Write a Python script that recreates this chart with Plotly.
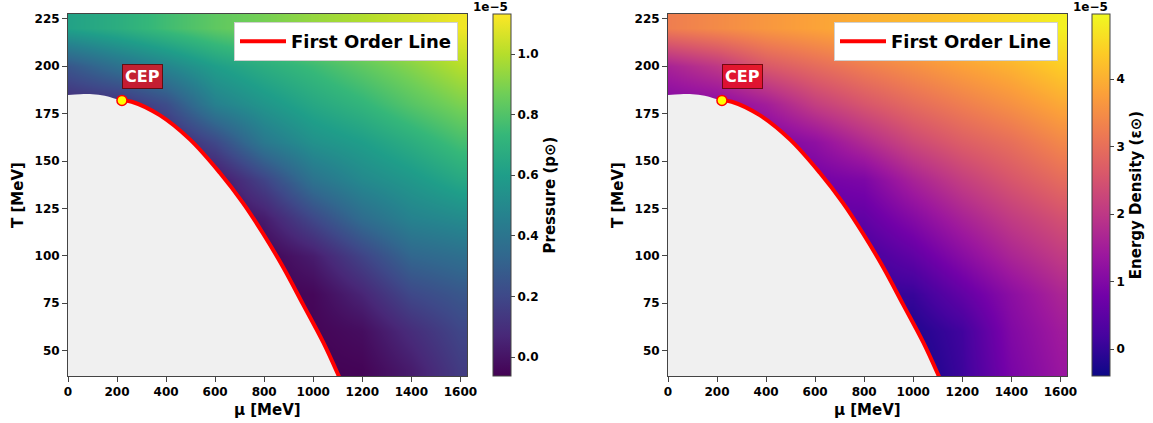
import plotly.graph_objects as go

# ---------------- data ----------------
MU = [0, 200, 400, 600, 800, 1000, 1200, 1400, 1600]          # MeV
TEMP = [40, 60, 80, 100, 120, 140, 160, 180, 200, 220]         # MeV

# Pressure (units of 1e-5), rows = TEMP, cols = MU
PRESSURE = [
    [-0.06, -0.06, -0.06, -0.06, -0.06, -0.06, -0.05, 0.03, 0.15],
    [-0.06, -0.06, -0.06, -0.06, -0.06, -0.05, -0.02, 0.09, 0.19],
    [-0.06, -0.06, -0.06, -0.06, -0.06, -0.04, 0.06, 0.20, 0.26],
    [-0.06, -0.06, -0.06, -0.06, -0.05, 0.03, 0.18, 0.33, 0.37],
    [-0.05, -0.05, -0.05, -0.05, 0.03, 0.20, 0.36, 0.47, 0.51],
    [-0.02, -0.02, -0.02, 0.00, 0.18, 0.39, 0.50, 0.57, 0.65],
    [0.00, 0.00, 0.05, 0.20, 0.42, 0.54, 0.60, 0.68, 0.77],
    [0.08, 0.10, 0.22, 0.46, 0.56, 0.65, 0.72, 0.81, 0.89],
    [0.26, 0.38, 0.48, 0.60, 0.68, 0.75, 0.83, 0.91, 1.00],
    [0.62, 0.68, 0.76, 0.83, 0.88, 0.94, 0.99, 1.05, 1.11],
]

# Energy density (units of 1e-5)
ENERGY = [
    [-0.35, -0.35, -0.35, -0.35, -0.35, -0.35, 0.10, 0.90, 1.35],
    [-0.30, -0.30, -0.30, -0.30, -0.30, -0.20, 0.15, 1.00, 1.45],
    [0.00, 0.00, 0.00, 0.00, 0.00, 0.05, 0.57, 1.15, 1.65],
    [0.20, 0.20, 0.20, 0.20, 0.20, 0.55, 1.10, 1.64, 2.05],
    [0.50, 0.50, 0.50, 0.50, 0.57, 1.05, 1.59, 2.07, 2.45],
    [0.60, 0.60, 0.60, 0.80, 0.94, 1.59, 2.12, 2.55, 2.93],
    [0.80, 0.80, 0.90, 1.20, 1.75, 2.30, 2.70, 3.00, 3.40],
    [1.00, 1.10, 1.50, 2.12, 2.55, 2.93, 3.25, 3.55, 3.90],
    [1.60, 2.00, 2.60, 2.93, 3.25, 3.52, 3.80, 4.05, 4.40],
    [3.25, 3.45, 3.65, 3.82, 3.98, 4.14, 4.35, 4.60, 4.85],
]

# Boundary of the masked region left of the CEP
EDGE_MU = [0, 50, 100, 150]
EDGE_T = [184.8, 185.3, 185.3, 184.5]

# First order line, from the CEP down to the bottom edge
LINE_MU = [220, 260, 374, 497, 619, 714, 796, 878, 959, 1041, 1102, 1114]
LINE_T = [182.0, 181.3, 174.2, 161.4, 143.8, 127.8, 111.6, 93.8, 74.2, 54.2, 37.1, 33.5]

CEP_MU, CEP_T = 220, 182.0

P_TICKS = [0.0, 0.2, 0.4, 0.6, 0.8, 1.0]
E_TICKS = [0, 1, 2, 3, 4]
X_TICKS = [0, 200, 400, 600, 800, 1000, 1200, 1400, 1600]
Y_TICKS = [50, 75, 100, 125, 150, 175, 200, 225]

# ---------------- figure ----------------
W, H = 1153, 423
ML, MR = 10, 40
FONT = "DejaVu Sans"
FRAME = "#444444"


def px(v):
    return (v - ML) / (W - ML - MR)


def py(v):
    return 1 - v / H


panels = [
    dict(xa="x", ya="y", ca="coloraxis", z=PRESSURE, leg="legend"),
    dict(xa="x2", ya="y2", ca="coloraxis2", z=ENERGY, leg="legend2"),
]

fig = go.Figure()
for p in panels:
    fig.add_trace(go.Heatmap(x=MU, y=TEMP, z=p["z"], coloraxis=p["ca"], zsmooth="best",
                             xaxis=p["xa"], yaxis=p["ya"], hoverinfo="skip"))
    fig.add_trace(go.Scatter(x=EDGE_MU + LINE_MU, y=EDGE_T + LINE_T, mode="lines",
                             line=dict(width=0, shape="spline", color="#f0f0f0"),
                             fill="tozeroy", fillcolor="#f0f0f0", showlegend=False,
                             xaxis=p["xa"], yaxis=p["ya"], hoverinfo="skip"))
    fig.add_trace(go.Scatter(x=LINE_MU, y=LINE_T, mode="lines", name="First Order Line",
                             line=dict(width=4, shape="spline", color="#ff0000"),
                             showlegend=True, legend=p["leg"],
                             xaxis=p["xa"], yaxis=p["ya"]))
    fig.add_trace(go.Scatter(x=[CEP_MU], y=[CEP_T], mode="markers",
                             marker=dict(size=10, color="#ffff00", line=dict(width=1.5, color="#ff0000")),
                             showlegend=False, xaxis=p["xa"], yaxis=p["ya"], cliponaxis=False))

axis_common = dict(showline=True, linecolor=FRAME, linewidth=1, mirror=True,
                   ticks="outside", ticklen=5, tickcolor=FRAME, tickwidth=1,
                   showgrid=False, zeroline=False, automargin=False,
                   tickfont=dict(family=FONT, size=12, color="black", weight="bold"))

ydom = [py(376), py(14)]
layout = dict(
    width=W, height=H, margin=dict(l=ML, r=MR, t=0, b=0, autoexpand=False),
    paper_bgcolor="white", plot_bgcolor="white",
    font=dict(family=FONT, color="black"),
    xaxis=dict(domain=[px(68), px(467)], range=[0, 1627], tickvals=X_TICKS, anchor="y", **axis_common),
    yaxis=dict(domain=ydom, range=[36.5, 227.6], tickvals=Y_TICKS, anchor="x", **axis_common),
    xaxis2=dict(domain=[px(668), px(1067)], range=[0, 1627], tickvals=X_TICKS, anchor="y2", **axis_common),
    yaxis2=dict(domain=ydom, range=[36.5, 227.6], tickvals=Y_TICKS, anchor="x2", **axis_common),
)

cb_common = dict(thickness=18, thicknessmode="pixels", len=362 / H, lenmode="fraction",
                 y=py(195), yanchor="middle", xanchor="left", xpad=0, ypad=0,
                 outlinewidth=1, outlinecolor=FRAME, ticks="outside", ticklen=4,
                 tickcolor=FRAME, tickfont=dict(family=FONT, size=12, color="black", weight="bold"))

layout["coloraxis"] = dict(
    colorscale="Viridis", cmin=-0.062, cmax=1.132,
    colorbar=dict(x=px(493), tickvals=P_TICKS, tickformat=".1f",
                  title=dict(text="Pressure (p\u2299)", side="right",
                             font=dict(family=FONT, size=15, color="black", weight="bold")),
                  **cb_common))
layout["coloraxis2"] = dict(
    colorscale="Plasma", cmin=-0.40, cmax=4.966,
    colorbar=dict(x=px(1092), tickvals=E_TICKS, tickformat="d",
                  title=dict(text="Energy Density (\u03b5\u2299)", side="right",
                             font=dict(family=FONT, size=15, color="black", weight="bold")),
                  **cb_common))

leg_common = dict(bgcolor="white", bordercolor="#d0d0d0", borderwidth=1,
                  font=dict(family=FONT, size=18, color="black", weight="bold"),
                  itemwidth=46,
                  xanchor="right", yanchor="top", y=py(22))
layout["legend"] = dict(x=px(458), **leg_common)
layout["legend2"] = dict(x=px(1058), **leg_common)

fig.update_layout(**layout)

annotations = []
for off, xa, ya in [(0, "x", "y"), (600, "x2", "y2")]:
    annotations.append(dict(text="T [MeV]", xref="paper", yref="paper", x=px(18 + off), y=py(195),
                            textangle=-90, showarrow=False, xanchor="center", yanchor="middle",
                            font=dict(family=FONT, size=15, color="black", weight="bold")))
    annotations.append(dict(text="\u03bc [MeV]", xref="paper", yref="paper", x=px(267.5 + off), y=py(410),
                            showarrow=False, xanchor="center", yanchor="middle",
                            font=dict(family=FONT, size=15, color="black", weight="bold")))
    annotations.append(dict(text="1e\u22125", xref="paper", yref="paper", x=px(510 + off), y=py(7.5),
                            showarrow=False, xanchor="right", yanchor="middle",
                            font=dict(family=FONT, size=12, color="black", weight="bold")))
    annotations.append(dict(text="CEP", xref=xa, yref=ya, x=305, y=194.5, showarrow=False,
                            xanchor="center", yanchor="middle",
                            bgcolor="rgba(232,12,28,0.8)", bordercolor="rgba(90,0,0,0.8)",
                            borderwidth=1, borderpad=2,
                            font=dict(family=FONT, size=16, color="white", weight="bold")))
fig.update_layout(annotations=annotations)

fig.write_html("out.html")
